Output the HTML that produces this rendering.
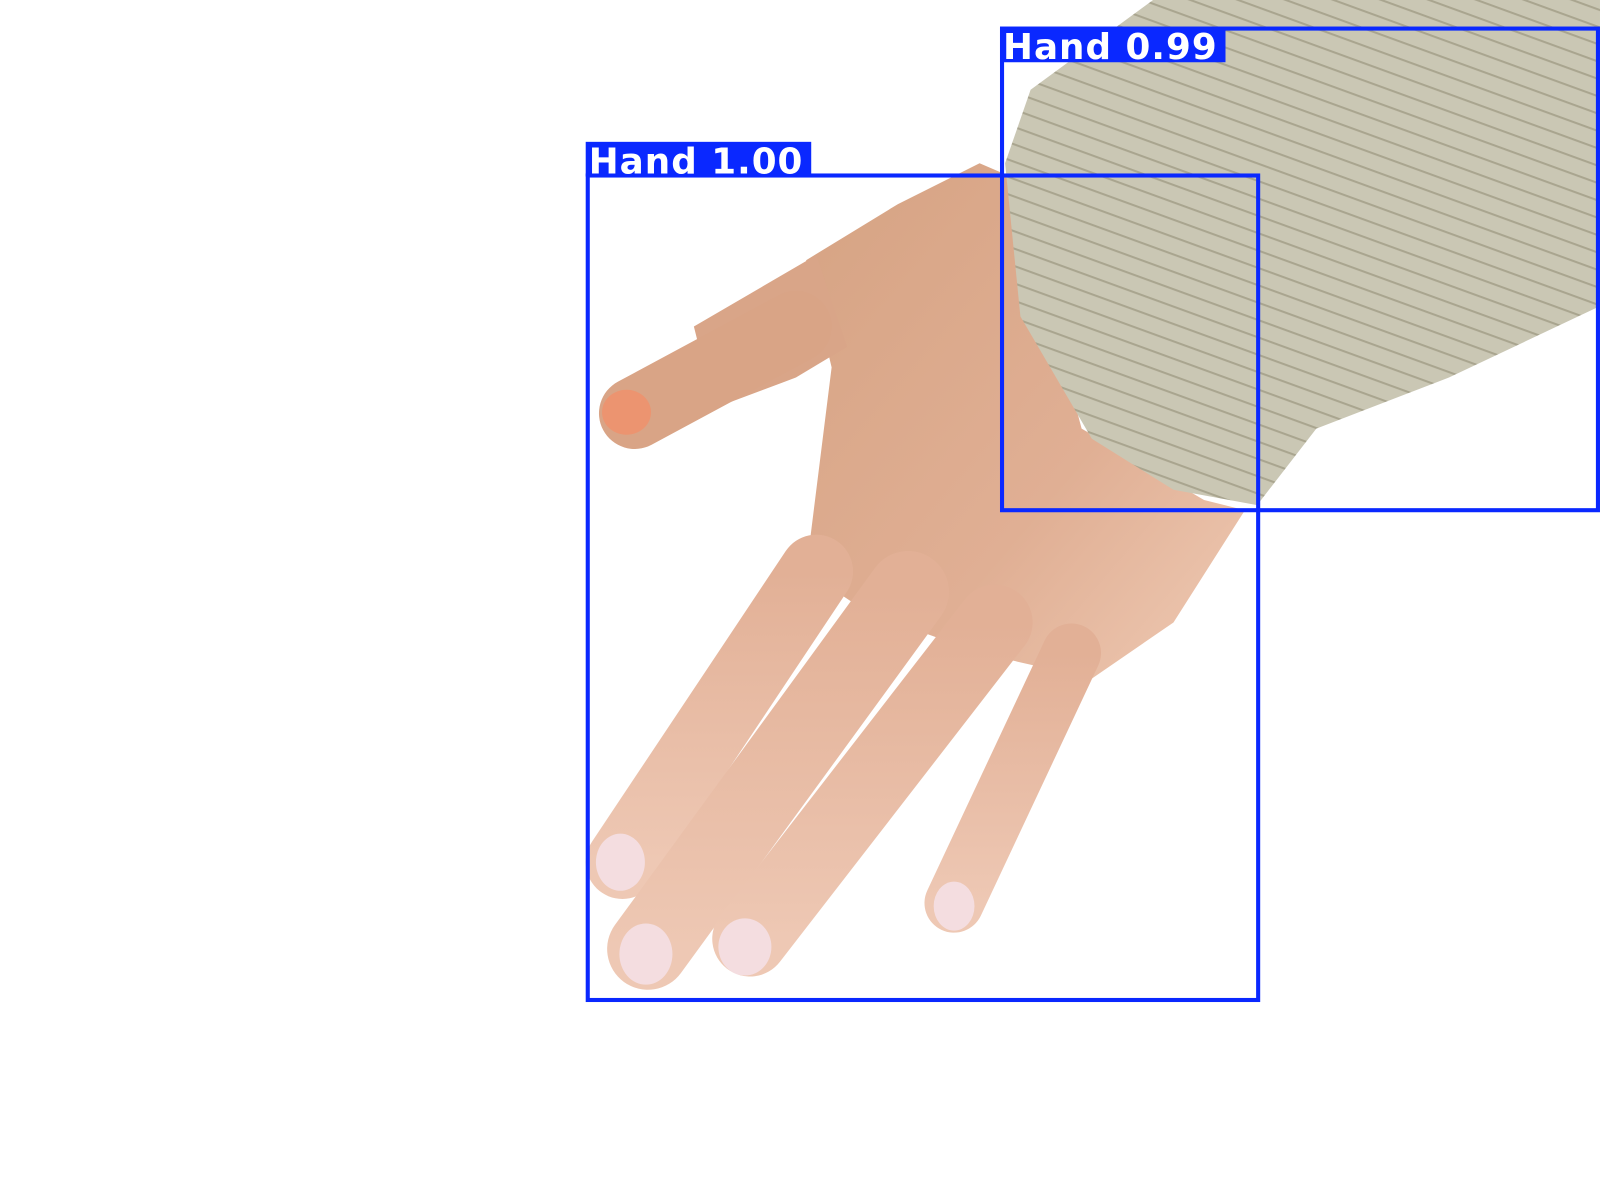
<!DOCTYPE html>
<html><head><meta charset="utf-8"><style>
html,body{margin:0;padding:0;background:#fff;}
svg{display:block;}
</style></head><body>
<svg width="1600" height="1200" viewBox="0 0 1600 1200">
<defs>
<linearGradient id="skin" x1="0" y1="0" x2="1" y2="1">
<stop offset="0" stop-color="#d6a383"/><stop offset="0.6" stop-color="#e0af94"/><stop offset="1" stop-color="#efcab4"/>
</linearGradient>
<linearGradient id="fing" x1="0" y1="0" x2="0" y2="1">
<stop offset="0" stop-color="#e2b096"/><stop offset="1" stop-color="#eec8b4"/>
</linearGradient>
<pattern id="rib" width="16" height="16" patternUnits="userSpaceOnUse" patternTransform="rotate(20)">
<rect width="16" height="16" fill="#cac7b4"/><rect width="16" height="2" fill="#a9a58f"/>
</pattern>
</defs>
<g transform="scale(1.0204)">
<g>
<polygon fill="url(#skin)" points="790,255 880,200 960,160 995,175 1060,420 1180,490 1220,500 1150,610 1070,665 960,640 850,600 790,560 800,480 815,360"/>
<polygon fill="#d9a588" points="680,320 800,250 830,340 780,370 700,400"/>
<line x1="780" y1="320" x2="622" y2="405" stroke="#d9a486" stroke-width="70" stroke-linecap="round"/>
<ellipse cx="614" cy="404" rx="24" ry="22" fill="#ec9470"/>
<line x1="800" y1="560" x2="610" y2="845" stroke="url(#fing)" stroke-width="72" stroke-linecap="round"/>
<line x1="890" y1="580" x2="635" y2="930" stroke="url(#fing)" stroke-width="80" stroke-linecap="round"/>
<line x1="975" y1="610" x2="735" y2="920" stroke="url(#fing)" stroke-width="74" stroke-linecap="round"/>
<line x1="1050" y1="640" x2="935" y2="885" stroke="url(#fing)" stroke-width="58" stroke-linecap="round"/>
<ellipse cx="608" cy="845" rx="24" ry="28" fill="#f4dde0"/>
<ellipse cx="633" cy="935" rx="26" ry="30" fill="#f4dde0"/>
<ellipse cx="730" cy="928" rx="26" ry="28" fill="#f4dde0"/>
<ellipse cx="935" cy="888" rx="20" ry="24" fill="#f4dde0"/>
</g>
<polygon fill="url(#rib)" points="1010,88 1130,0 1568,0 1568,300 1420,370 1290,420 1232,495 1150,480 1070,430 1000,310 985,160"/>
<g>
<rect x="576" y="172" width="657" height="808" fill="none" stroke="#0a28ff" stroke-width="4"/>
<rect x="574" y="139" width="221" height="34" fill="#0a28ff"/>
<text x="577" y="170" font-family="'DejaVu Sans','Liberation Sans',sans-serif" font-weight="bold" font-size="35" letter-spacing="1" fill="#fff">Hand 1.00</text>
</g>
<g>
<rect x="982" y="28" width="584" height="472" fill="none" stroke="#0a28ff" stroke-width="4"/>
<rect x="980" y="27" width="221" height="34" fill="#0a28ff"/>
<text x="983" y="58" font-family="'DejaVu Sans','Liberation Sans',sans-serif" font-weight="bold" font-size="35" letter-spacing="1" fill="#fff">Hand 0.99</text>
</g>
</g>
</svg>
</body></html>
